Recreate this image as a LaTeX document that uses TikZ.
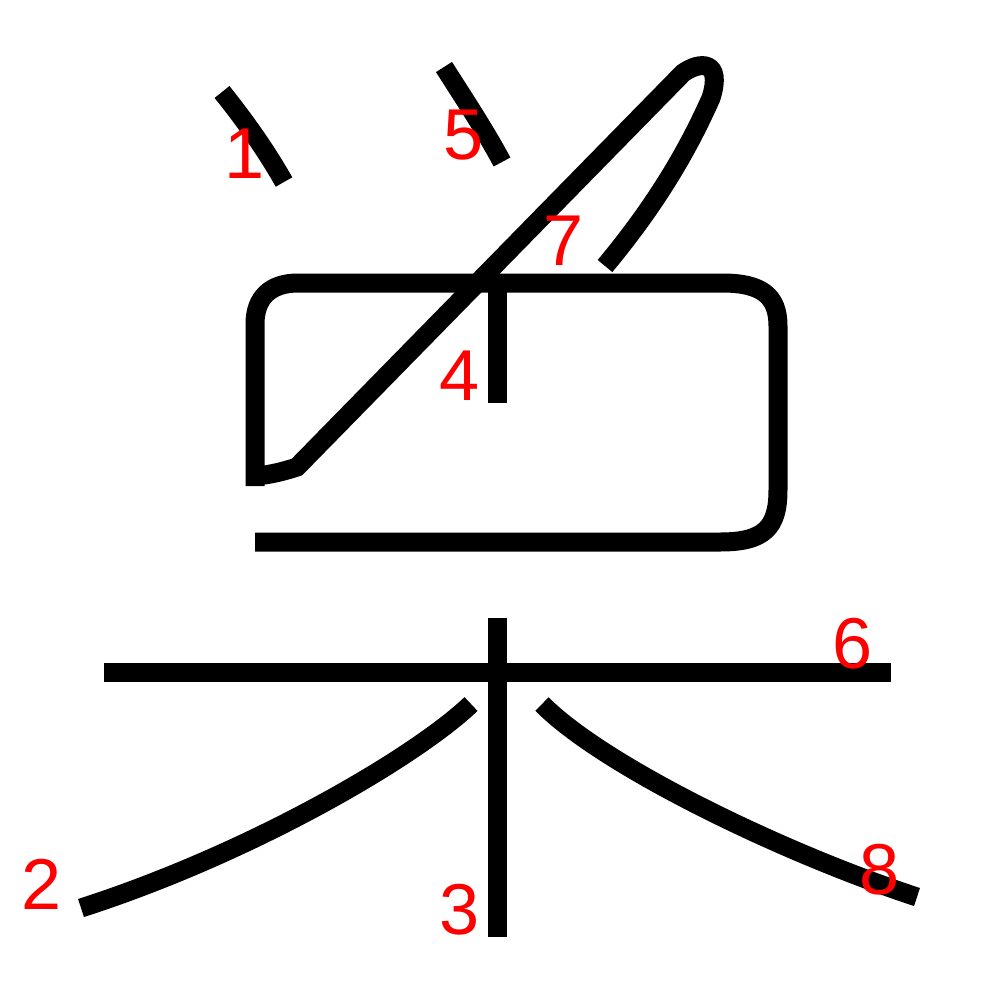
\documentclass[tikz,border=0pt]{standalone}
\usepackage{fontspec}
\setmainfont{Liberation Sans}
\usetikzlibrary{positioning}
\definecolor{Ink}{RGB}{0,0,0}
\definecolor{Num}{RGB}{255,0,0}

\begin{document}
\begin{tikzpicture}[
    x=0.1mm,y=-0.1mm,
    stroke/.style={draw=Ink,line width=1.9mm,line cap=butt,line join=miter},
    num/.style={text=Num,inner sep=0pt,font=\fontsize{20.5}{24}\selectfont}
]
\useasboundingbox (0,0) rectangle (1000,1000);

% Top dots
\draw[stroke] (222,92) .. controls (243,118) and (266,150) .. (284,182);
\draw[stroke] (444,67) .. controls (463,97) and (485,130) .. (502,162);

% Box
\draw[stroke] (255,486) -- (255,324) .. controls (255,298) and (270,283) .. (298,283)
    -- (722,283) .. controls (762,283) and (778,296) .. (778,326)
    -- (778,490) .. controls (778,528) and (764,542) .. (720,542) -- (255,542);
\draw[stroke] (497,290) -- (497,403);

% Long slanted stroke with curl
\draw[stroke] (255,476) .. controls (270,475) and (285,471) .. (297,467)
    -- (683,73) .. controls (700,61) and (723,60) .. (711,98)
    .. controls (690,145) and (660,200) .. (605,266);

% Tree part
\draw[stroke] (104,672) -- (891,672);
\draw[stroke] (497,618) -- (497,937);
\draw[stroke] (471,704) .. controls (418,755) and (255,852) .. (81,908);
\draw[stroke] (542,704) .. controls (602,765) and (780,852) .. (917,897);

% Stroke numbers
\node[num] (n1) at (245,154) {1};
\node[num] (n2) at (42,884) {2};
\node[num] (n3) at (460,910) {3};
\node[num] (n4) at (460,376) {4};
\node[num] (n5) at (464,135) {5};
\node[num] (n6) at (853,644) {6};
\node[num] (n7) at (564,241) {7};
\node[num] (n8) at (880,870) {8};

\end{tikzpicture}
\end{document}
